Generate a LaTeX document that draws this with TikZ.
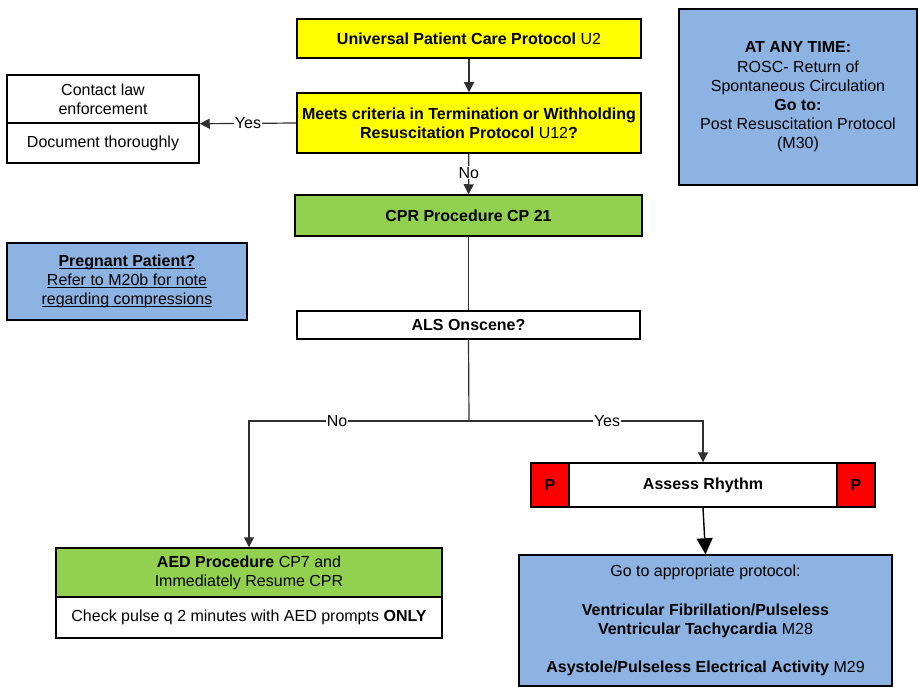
\documentclass[tikz,border=0pt]{standalone}
\usepackage{fontspec}
\setmainfont{Liberation Sans}
\usetikzlibrary{arrows.meta}
\definecolor{protoyellow}{HTML}{FFFF00}
\definecolor{procgreen}{HTML}{92D050}
\definecolor{noteblue}{HTML}{8DB3E2}
\definecolor{flagred}{HTML}{FF0000}
\definecolor{wire}{HTML}{303030}
% underline sitting just below the baseline
\newcommand\ulbase[1]{\setbox0\hbox{#1}\rlap{\rule[-2.2pt]{\wd0}{0.9pt}}\box0}

\begin{document}
\begin{tikzpicture}[x=1pt,y=-1pt,
  font=\fontsize{16}{19.2}\selectfont,
  box/.style={draw=black, line width=1.5pt, rectangle, inner sep=0pt, align=center},
  yellowbox/.style={box, fill=protoyellow},
  greenbox/.style={box, fill=procgreen},
  bluebox/.style={box, fill=noteblue},
  whitebox/.style={box, fill=white},
  redbox/.style={box, fill=flagred},
  conn/.style={draw=wire, line width=1.2pt, -{Triangle[length=10pt,width=10pt]}},
  plain/.style={draw=wire, line width=1.2pt},
  bigconn/.style={draw=black, line width=1.4pt, -{Triangle[length=16pt,width=16pt]}},
  lbl/.style={fill=white, inner sep=1pt}
]
\useasboundingbox (0,0) rectangle (918,687);

% main column
\node[yellowbox, minimum width=344pt, minimum height=39pt] (u2) at (469,38.5)
  {\textbf{Universal Patient Care Protocol} U2};
\node[yellowbox, minimum width=344pt, minimum height=60pt] (u12) at (469,123)
  {\textbf{Meets criteria in Termination or Withholding}\\
   \textbf{Resuscitation Protocol} U12\textbf{?}};
\node[greenbox, minimum width=347pt, minimum height=41pt] (cpr) at (468.5,215.5)
  {\textbf{CPR Procedure CP 21}};
\node[whitebox, minimum width=343pt, minimum height=28pt] (als) at (468.5,325)
  {\textbf{ALS Onscene?}};

% termination outcome
\node[whitebox, minimum width=192pt, minimum height=48pt] (law1) at (103,99)
  {Contact law\\enforcement};
\node[whitebox, minimum width=192pt, minimum height=40pt] (law2) at (103,143)
  {Document thoroughly};

% side notes
\node[bluebox, minimum width=238pt, minimum height=176pt] (rosc) at (798,97)
  {\textbf{AT ANY TIME:}\\ROSC- Return of\\Spontaneous Circulation\\
   \textbf{Go to:}\\Post Resuscitation Protocol\\(M30)};
\node[bluebox, minimum width=240pt, minimum height=77pt] (preg) at (127,281.5)
  {\ulbase{\textbf{Pregnant Patient?}}\\\ulbase{Refer to M20b for note}\\
   \ulbase{regarding compressions}};

% BLS branch
\node[greenbox, minimum width=386pt, minimum height=49pt] (aed1) at (249,572.5)
  {\textbf{AED Procedure} CP7 and\\Immediately Resume CPR};
\node[whitebox, minimum width=386pt, minimum height=41pt] (aed2) at (249,617.5)
  {Check pulse q 2 minutes with AED prompts \textbf{ONLY}};

% ALS branch
\node[whitebox, minimum width=268pt, minimum height=44pt] (rhythm) at (703,485)
  {\textbf{Assess Rhythm}};
\node[redbox, minimum width=38pt, minimum height=44pt] (pl) at (550,485) {\textbf{P}};
\node[redbox, minimum width=38pt, minimum height=44pt] (pr) at (856,485) {\textbf{P}};
\node[bluebox, minimum width=373pt, minimum height=131pt] (goto) at (705.5,620.5)
  {Go to appropriate protocol:\\[19.2pt]
   \textbf{Ventricular Fibrillation/Pulseless}\\
   \textbf{Ventricular Tachycardia} M28\\[19.2pt]
   \textbf{Asystole/Pulseless Electrical Activity} M29};

% connectors
\coordinate (split) at (469,421);
\draw[conn] (u2) -- (u12);
\draw[conn] (u12.west) -- node[lbl]{Yes} (law1.south east);
\draw[conn] (u12) -- node[lbl, pos=0.47]{No} (cpr);
\draw[plain] (cpr.south) -- (als.north);
\draw[plain] (als.south) -- (split);
\draw[conn] (split) -- node[lbl, pos=0.6]{No} (split -| aed1.north) -- (aed1.north);
\draw[conn] (split) -- node[lbl, pos=0.59]{Yes} (split -| rhythm.north) -- (rhythm.north);
\draw[bigconn] (rhythm.south) -- (goto.north);
\end{tikzpicture}
\end{document}
